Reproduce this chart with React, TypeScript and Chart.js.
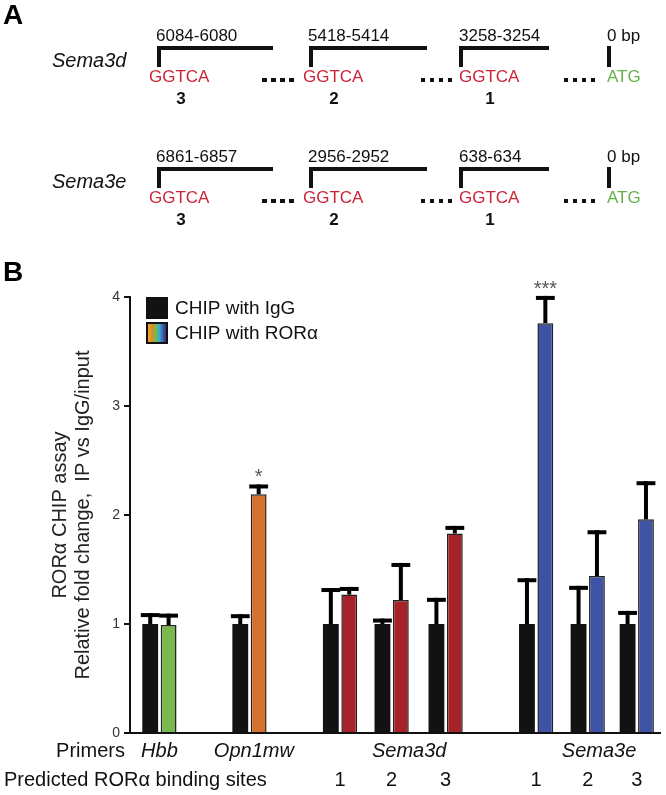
import React, { useEffect, useRef } from "react";
import { Chart, registerables } from "chart.js";

Chart.register(...registerables);

// ---------------- Data (panel B) ----------------
const slotLabels = ["Hbb", "Opn1mw", "Sema3d-1", "Sema3d-2", "Sema3d-3", "Sema3e-1", "Sema3e-2", "Sema3e-3"];
const slotPositions = [0, 1.745, 3.5, 4.5, 5.546, 7.3, 8.3, 9.25];
const bindingSites = ["", "", "1", "2", "3", "1", "2", "3"];
const primerNames = ["Hbb", "Opn1mw", "Sema3d", "Sema3e"];
const primerLabelPositions = [0, 1.83, 4.84, 8.52];
const iggMeans = [1, 1, 1, 1, 1, 1, 1, 1];
const iggErrorTops = [1.1, 1.09, 1.33, 1.05, 1.24, 1.42, 1.35, 1.12];
const roraMeans = [0.99, 2.19, 1.27, 1.22, 1.83, 3.76, 1.44, 1.96];
const roraErrorTops = [1.095, 2.28, 1.34, 1.56, 1.9, 4.01, 1.86, 2.31];
const roraSignificance = ["", "*", "", "", "", "***", "", ""];
const seriesNames = ["CHIP with IgG", "CHIP with RORα"];
const yTickValues = [0, 1, 2, 3, 4];
const yTitleLines = ["RORα CHIP assay", "Relative fold change,  IP vs IgG/input"];
const rowTitles = ["Primers", "Predicted RORα binding sites"];

// ---------------- Data (panel A) ----------------
const genes = ["Sema3d", "Sema3e"];
const siteRanges = [
  ["6084-6080", "5418-5414", "3258-3254"],
  ["6861-6857", "2956-2952", "638-634"],
];
const siteOrder = ["3", "2", "1"];
const motif = "GGTCA";
const startCodon = "ATG";
const originLabel = "0 bp";

// ---------------- Styles ----------------
const FONT = '"Liberation Sans", Arial, Helvetica, sans-serif';
const IGG_COLOR = "#121212";
const RORA_COLORS = ["#78b84f", "#d5712d", "#a82329", "#a82329", "#a82329", "#3e53a3", "#3e53a3", "#3e53a3"];
const MOTIF_RED = "#cc2336";
const ATG_GREEN = "#66b04a";

const errorBarPlugin = {
  id: "errorBars",
  afterDatasetsDraw(chart: any) {
    const ctx = chart.ctx;
    const ys = chart.scales.y;
    chart.data.datasets.forEach((ds: any, i: number) => {
      const meta = chart.getDatasetMeta(i);
      meta.data.forEach((bar: any, j: number) => {
        const { x, y, width } = bar.getProps(["x", "y", "width"], true);
        const yt = ys.getPixelForValue(ds.errorTops[j]);
        ctx.save();
        ctx.fillStyle = "#000";
        ctx.fillRect(x - 2, yt, 4, y - yt);
        ctx.fillRect(x - width / 2 - 1.5, yt, width + 3, 4);
        const sig = ds.significance ? ds.significance[j] : "";
        if (sig) {
          ctx.fillStyle = "#555";
          ctx.font = `20px ${FONT}`;
          ctx.textAlign = "center";
          ctx.textBaseline = "alphabetic";
          ctx.fillText(sig, x, yt - 1);
        }
        ctx.restore();
      });
    });
  },
};

const labelsPlugin = {
  id: "xLabelsLegend",
  afterDraw(chart: any) {
    const ctx = chart.ctx;
    const xs = chart.scales.x;
    const area = chart.chartArea;
    ctx.save();
    ctx.fillStyle = "#111";
    ctx.textBaseline = "middle";
    // Row 1: primers
    ctx.font = `20px ${FONT}`;
    ctx.textAlign = "right";
    ctx.fillText(rowTitles[0], area.left - 5, 751);
    ctx.font = `italic 20px ${FONT}`;
    ctx.textAlign = "center";
    primerNames.forEach((p, i) => ctx.fillText(p, xs.getPixelForValue(primerLabelPositions[i]), 751));
    // Row 2: binding sites
    ctx.font = `20px ${FONT}`;
    ctx.textAlign = "left";
    ctx.fillText(rowTitles[1], 4, 780);
    ctx.textAlign = "center";
    bindingSites.forEach((s, i) => {
      if (s) ctx.fillText(s, xs.getPixelForValue(slotPositions[i]), 780);
    });

    // Legend
    const lx = area.left + 17;
    const ly = area.top + 1;
    const sz = 20;
    chart.data.datasets.forEach((ds: any, i: number) => {
      const y0 = ly + i * 25;
      if (i === 0) {
        ctx.fillStyle = IGG_COLOR;
      } else {
        const g = ctx.createLinearGradient(lx, 0, lx + sz, 0);
        g.addColorStop(0, "#f0b323");
        g.addColorStop(0.25, "#e08a2a");
        g.addColorStop(0.45, "#6fbf4a");
        g.addColorStop(0.62, "#3aa9d6");
        g.addColorStop(0.82, "#3e53a3");
        g.addColorStop(1, "#33236e");
        ctx.fillStyle = g;
      }
      ctx.fillRect(lx, y0, sz, sz);
      ctx.strokeStyle = "#111";
      ctx.lineWidth = 2;
      ctx.strokeRect(lx, y0, sz, sz);
      ctx.fillStyle = "#111";
      ctx.font = `19px ${FONT}`;
      ctx.textAlign = "left";
      ctx.textBaseline = "middle";
      ctx.fillText(ds.label, lx + 28, y0 + sz / 2 + 0.5);
    });
    ctx.restore();
  },
};

function PanelA() {
  const ROW_DY = [0, 121];
  const LABEL_X = [156, 308, 459];
  const BRACKET_X = [157, 309, 459];
  const BRACKET_END = [273, 427, 549];
  const MOTIF_X = [149, 303, 459];
  const NUM_X = [181, 334, 490];
  const DOTS_X = [262, 421, 564];
  const ORIGIN_X = 607;

  const text = (key: string, x: number, cy: number, content: string, size: number, extra: any = {}, center = false) => (
    <div
      key={key}
      style={{
        position: "absolute",
        left: x,
        top: cy - size * 0.49,
        fontSize: size,
        lineHeight: `${size}px`,
        whiteSpace: "nowrap",
        color: "#111",
        transform: center ? "translateX(-50%)" : undefined,
        ...extra,
      }}
    >
      {content}
    </div>
  );
  const rect = (key: string, x: number, y: number, w: number, h: number) => (
    <div key={key} style={{ position: "absolute", left: x, top: y, width: w, height: h, background: "#111" }} />
  );
  const dots = (key: string, x: number, cy: number) => (
    <div
      key={key}
      style={{
        position: "absolute",
        left: x,
        top: cy - 2,
        width: 32,
        height: 4,
        background: "repeating-linear-gradient(to right, #111 0px, #111 4.5px, transparent 4.5px, transparent 9px)",
      }}
    />
  );

  const els: any[] = [];
  genes.forEach((g, r) => {
    const dy = ROW_DY[r];
    els.push(text(`g${r}`, 52, 60 + dy, g, 20, { fontStyle: "italic" }));
    siteRanges[r].forEach((lab, c) => {
      els.push(text(`l${r}${c}`, LABEL_X[c], 35 + dy, lab, 17));
      els.push(rect(`bh${r}${c}`, BRACKET_X[c], 46 + dy, BRACKET_END[c] - BRACKET_X[c], 4));
      els.push(rect(`bv${r}${c}`, BRACKET_X[c], 46 + dy, 4, 21));
      els.push(text(`m${r}${c}`, MOTIF_X[c], 76 + dy, motif, 17, { color: MOTIF_RED }));
      els.push(text(`n${r}${c}`, NUM_X[c], 98 + dy, siteOrder[c], 17, { fontWeight: "bold" }, true));
      els.push(dots(`d${r}${c}`, DOTS_X[c], 80 + dy));
    });
    els.push(text(`o${r}`, ORIGIN_X, 35 + dy, originLabel, 17));
    els.push(rect(`ov${r}`, ORIGIN_X, 46 + dy, 4, 21));
    els.push(text(`atg${r}`, ORIGIN_X, 76 + dy, startCodon, 17, { color: ATG_GREEN }));
  });
  return <>{els}</>;
}

export default function App() {
  const ref = useRef<HTMLCanvasElement>(null);

  useEffect(() => {
    if (!ref.current) return;
    const chart = new Chart(ref.current, {
      type: "bar",
      data: {
        labels: slotLabels,
        datasets: [
          {
            label: seriesNames[0],
            data: slotPositions.map((x, i) => ({ x, y: iggMeans[i] })),
            backgroundColor: IGG_COLOR,
            borderWidth: 0,
            errorTops: iggErrorTops,
          } as any,
          {
            label: seriesNames[1],
            data: slotPositions.map((x, i) => ({ x, y: roraMeans[i] })),
            backgroundColor: RORA_COLORS,
            borderColor: "#222",
            borderWidth: 1.5,
            errorTops: roraErrorTops,
            significance: roraSignificance,
          } as any,
        ],
      },
      options: {
        responsive: false,
        animation: false,
        events: [],
        layout: { padding: { top: 297, left: 0, right: 6, bottom: 62 } },
        datasets: { bar: { categoryPercentage: 0.7506, barPercentage: 0.86 } },
        plugins: { legend: { display: false }, tooltip: { enabled: false } },
        scales: {
          x: {
            type: "linear",
            offset: false,
            min: -0.57,
            max: 9.7,
            afterBuildTicks: (s: any) => {
              s.ticks = slotPositions.map((v) => ({ value: v }));
            },
            afterFit: (s: any) => {
              s.height = 0;
            },
            ticks: { display: false },
            grid: { display: true, drawOnChartArea: false, drawTicks: false, offset: false },
            border: { display: true, color: "#111", width: 2 },
          },
          y: {
            min: 0,
            max: 4,
            afterBuildTicks: (s: any) => {
              s.ticks = yTickValues.map((v) => ({ value: v }));
            },
            afterFit: (s: any) => {
              s.width = 130;
            },
            ticks: { color: "#333", font: { family: FONT, size: 14 }, padding: 4 },
            grid: { display: true, drawOnChartArea: false, drawTicks: true, tickLength: 6, color: "#111", lineWidth: 2 },
            border: { display: true, color: "#111", width: 2 },
            title: {
              display: true,
              text: yTitleLines,
              color: "#222",
              font: { family: FONT, size: 20, lineHeight: 1.15 },
              padding: { top: 48.5, bottom: 0 },
            },
          },
        },
      } as any,
      plugins: [errorBarPlugin, labelsPlugin],
    });
    return () => chart.destroy();
  }, []);

  return (
    <div
      style={{
        position: "absolute",
        left: 0,
        top: 0,
        width: 666,
        height: 795,
        background: "#fff",
        fontFamily: FONT,
        overflow: "hidden",
      }}
    >
      <canvas ref={ref} width={666} height={795} style={{ position: "absolute", left: 0, top: 0, width: 666, height: 795 }} />
      <div style={{ position: "absolute", left: 3, top: 1, fontSize: 28, lineHeight: "28px", fontWeight: "bold", color: "#000" }}>A</div>
      <div style={{ position: "absolute", left: 3, top: 258, fontSize: 28, lineHeight: "28px", fontWeight: "bold", color: "#000" }}>B</div>
      <PanelA />
    </div>
  );
}
